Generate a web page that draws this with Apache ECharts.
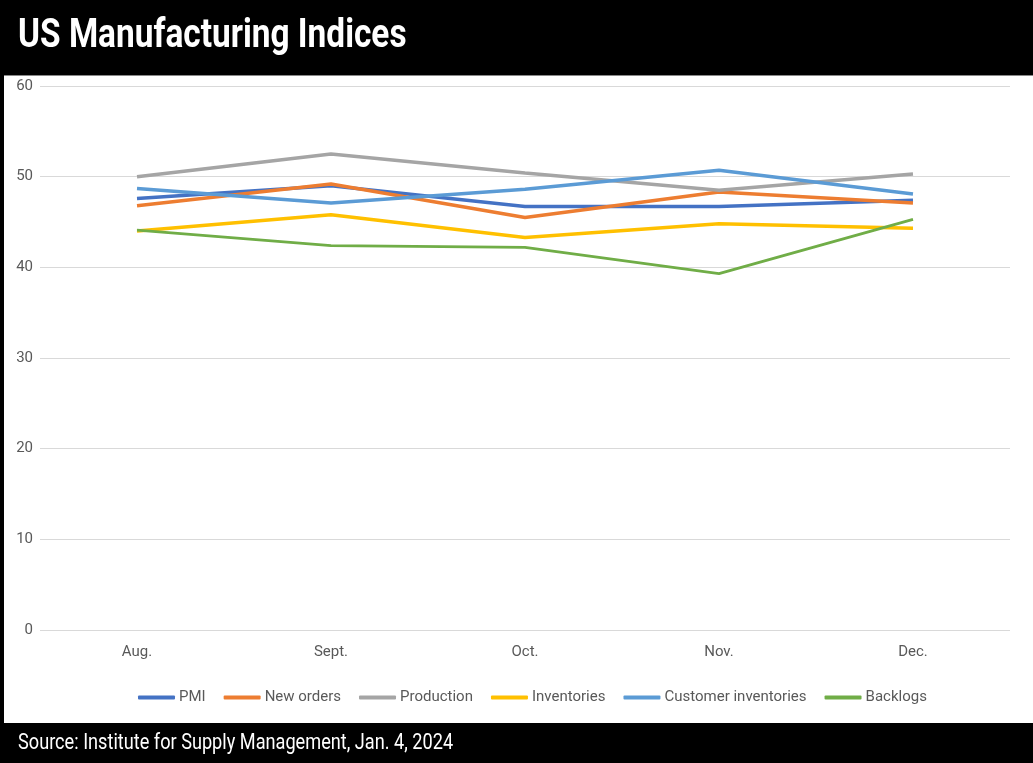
<!DOCTYPE html>
<html>
<head>
<meta charset="utf-8">
<script src="https://cdn.jsdelivr.net/npm/echarts@6/dist/echarts.min.js"></script>
<style>
  html, body { margin: 0; padding: 0; background: #fff; }
  #chart { width: 1033px; height: 763px; }
</style>
</head>
<body>
<div id="chart"></div>
<script>
const months = ['Aug.', 'Sept.', 'Oct.', 'Nov.', 'Dec.'];
const pmi = [47.6, 49.0, 46.7, 46.7, 47.4];
const newOrders = [46.8, 49.2, 45.5, 48.3, 47.1];
const production = [50.0, 52.5, 50.4, 48.5, 50.3];
const inventories = [44.0, 45.8, 43.3, 44.8, 44.3];
const customerInventories = [48.7, 47.1, 48.6, 50.7, 48.1];
const backlogs = [44.1, 42.4, 42.2, 39.3, 45.3];

const chart = echarts.init(document.getElementById('chart'));

function line(name, data, color, width) {
  return {
    name: name,
    type: 'line',
    data: data,
    symbol: 'none',
    color: color,
    lineStyle: {color: color, width: width},
    animation: false
  };
}

const option = {
  backgroundColor: '#fff',
  animation: false,
  graphic: [
    {type: 'rect', left: 0, top: 0, shape: {width: 1033, height: 75}, style: {fill: '#000'}, z: 10},
    {type: 'rect', left: 0, top: 75, shape: {width: 1033, height: 1}, style: {fill: '#888'}, z: 10},
    {type: 'rect', left: 0, top: 723, shape: {width: 1033, height: 40}, style: {fill: '#000'}, z: 10},
    {type: 'rect', left: 0, top: 0, shape: {width: 4, height: 763}, style: {fill: '#000'}, z: 10},
    {
      type: 'text', x: 18, y: 37, scaleX: 0.835, z: 11,
      style: {
        text: 'US Manufacturing Indices', fill: '#fff',
        font: 'bold 40px Roboto', textVerticalAlign: 'middle'
      }
    },
    {
      type: 'text', x: 18, y: 743, scaleX: 0.825, z: 11,
      style: {
        text: 'Source: Institute for Supply Management, Jan. 4, 2024', fill: '#fff',
        font: '22px Roboto', textVerticalAlign: 'middle'
      }
    }
  ],
  legend: {
    bottom: 53,
    left: 133,
    itemWidth: 37,
    itemHeight: 4,
    itemGap: 18,
    icon: 'roundRect',
    textStyle: {color: '#595959', fontSize: 15, fontFamily: 'Roboto', padding: [0, 0, 0, -1]},
    data: ['PMI', 'New orders', 'Production', 'Inventories', 'Customer inventories', 'Backlogs']
  },
  grid: {left: 40, right: 23, top: 86, bottom: 133},
  xAxis: {
    type: 'category',
    data: months,
    boundaryGap: true,
    axisLine: {show: false},
    axisTick: {show: false},
    axisLabel: {color: '#595959', fontSize: 15, fontFamily: 'Roboto', margin: 15}
  },
  yAxis: {
    type: 'value',
    min: 0,
    max: 60,
    interval: 10,
    axisLine: {show: false},
    axisTick: {show: false},
    axisLabel: {color: '#595959', fontSize: 15, fontFamily: 'Roboto', margin: 7},
    splitLine: {lineStyle: {color: '#d9d9d9', width: 1}}
  },
  series: [
    line('PMI', pmi, '#4472C4', 3.5),
    line('New orders', newOrders, '#ED7D31', 3.5),
    line('Production', production, '#A5A5A5', 3.5),
    line('Inventories', inventories, '#FFC000', 3.5),
    line('Customer inventories', customerInventories, '#5B9BD5', 3.5),
    line('Backlogs', backlogs, '#70AD47', 2.8)
  ]
};

chart.setOption(option);
</script>
</body>
</html>
